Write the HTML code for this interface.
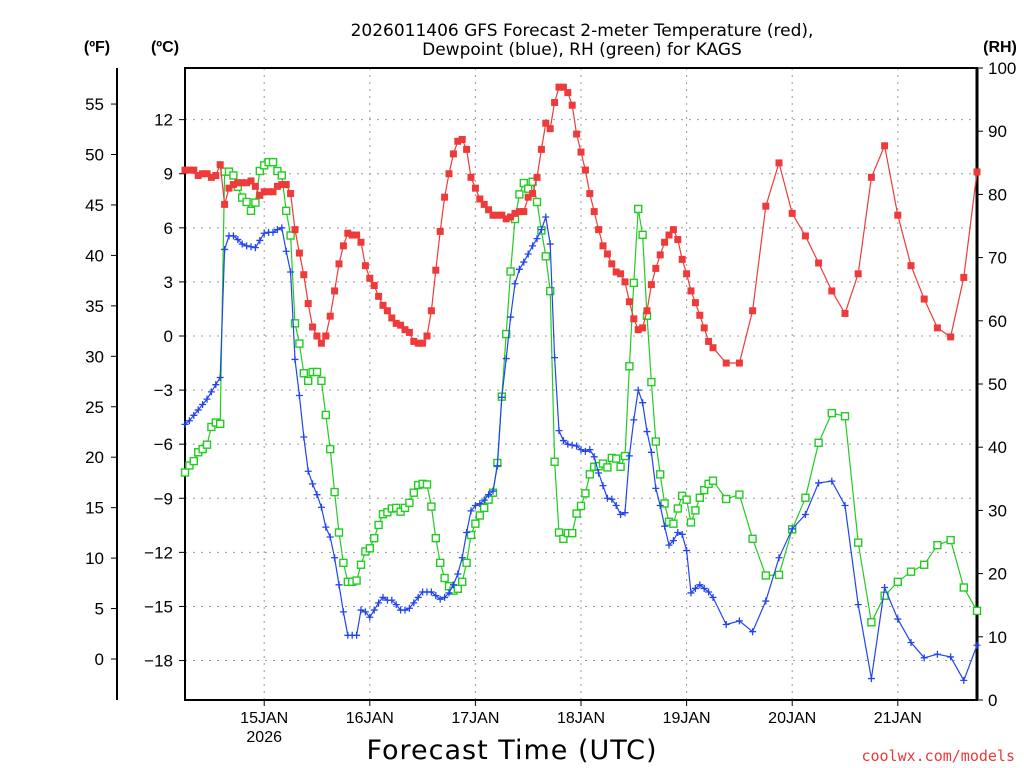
<!DOCTYPE html>
<html><head><meta charset="utf-8"><style>
html,body{margin:0;padding:0;background:#fff;}
svg{display:block;font-family:"Liberation Sans","DejaVu Sans",sans-serif;}
</style></head><body>
<svg id="chart" width="1024" height="768" viewBox="0 0 1024 768" xmlns="http://www.w3.org/2000/svg">
<rect width="1024" height="768" fill="#fff"/>
<g id="grid"></g>
<g id="axes"></g>
<g id="series"></g>
<text x="582" y="36" text-anchor="middle" font-size="17" font-family="DejaVu Sans, sans-serif">2026011406 GFS Forecast 2-meter Temperature (red),</text>
<text x="582" y="55" text-anchor="middle" font-size="17" font-family="DejaVu Sans, sans-serif">Dewpoint (blue), RH (green) for KAGS</text>
<text x="97" y="52" text-anchor="middle" font-size="16" font-weight="bold">(ºF)</text>
<text x="165" y="52" text-anchor="middle" font-size="16" font-weight="bold">(ºC)</text>
<text x="1000" y="52" text-anchor="middle" font-size="16" font-weight="bold">(RH)</text>
<text x="512" y="759" text-anchor="middle" font-size="27" font-family="DejaVu Sans, sans-serif" letter-spacing="1">Forecast Time (UTC)</text>
<text x="1015" y="761" text-anchor="end" font-size="15" fill="#e83a3a" font-family="DejaVu Sans Mono, monospace">coolwx.com/models</text>
</svg>
<script>
const tempC = [9.2,9.2,9.2,8.9,9.0,9.0,8.8,8.9,9.5,7.3,8.2,8.4,8.5,8.5,8.5,8.6,8.3,7.8,8.0,8.0,8.0,8.3,8.4,8.4,7.9,5.9,4.6,3.4,1.8,0.5,0.0,-0.4,0.0,1.1,2.5,4.0,5.0,5.7,5.6,5.6,5.2,3.9,3.2,2.8,2.2,1.7,
1.4,1.0,0.7,0.6,0.35,0.2,-0.3,-0.4,-0.4,0.0,1.4,3.65,5.8,7.7,9.0,10.1,10.8,10.9,10.35,8.8,8.2,7.6,7.3,7.0,6.7,6.7,6.7,6.5,6.6,6.8,6.9,6.9,7.7,7.9,8.8,10.35,11.8,11.5,12.95,13.8,13.8,13.5,
12.8,11.2,10.2,9.2,7.9,6.9,5.9,5.0,4.55,4.0,3.55,3.45,3.0,1.9,0.95,0.35,0.45,1.4,2.85,3.75,4.5,5.2,5.6,5.9,5.35,4.25,3.45,2.5,1.85,1.15,0.45,-0.3,-0.65,
-1.5,-1.5,1.4,7.2,9.6,6.8,5.55,4.05,2.5,1.25,3.45,8.8,10.55,6.7,3.9,2.05,0.45,-0.05,3.25,9.1];
const dewC = [-4.9,-4.7,-4.4,-4.1,-3.8,-3.5,-3.1,-2.7,-2.3,4.8,5.55,5.55,5.35,5.1,5.0,4.95,4.9,5.3,5.7,5.75,5.75,5.9,6.0,4.7,3.55,
-1.3,-3.3,-5.6,-7.5,-8.2,-8.8,-9.5,-10.6,-11.15,-12.3,-13.8,-15.3,-16.6,-16.6,-16.6,-15.2,-15.3,-15.6,-15.2,-14.8,-14.5,
-14.65,-14.65,-14.9,-15.2,-15.2,-15.1,-14.8,-14.5,-14.2,-14.2,-14.2,-14.4,-14.6,-14.5,-14.25,-13.8,-13.2,-12.3,-10.9,-9.7,-9.4,-9.3,-9.1,-8.8,-8.6,-7.2,-3.4,-1.25,1.05,2.9,3.7,4.1,4.55,5.0,5.4,5.9,6.6,5.1,-1.2,-5.25,-5.8,-6.0,
-6.05,-6.1,-6.3,-6.4,-6.3,-6.7,-7.6,-8.3,-9.0,-9.05,-9.4,-9.9,-9.8,-6.65,-4.65,-3.0,-3.7,-5.3,-6.45,-8.45,-9.4,-10.55,-11.6,-11.35,-10.9,-11.0,-11.9,-14.25,-14.0,-13.8,-14.0,-14.2,-14.5,
-16.0,-15.8,-16.4,-14.7,-12.3,-10.7,-9.9,-8.15,-8.05,-9.4,-14.9,-19.0,-13.95,-15.7,-17.0,-17.85,-17.65,-17.8,-19.1,-17.15];
const rhPct = [36.0,37.1,37.8,39.2,39.7,40.4,43.2,43.9,43.7,83.6,83.6,83.0,81.2,79.5,78.8,77.4,78.7,83.7,84.6,85.1,85.1,83.7,83.0,77.4,73.5,59.6,56.4,51.7,50.5,51.9,51.9,50.5,45.1,39.7,32.9,26.5,21.7,18.7,18.7,18.9,21.4,23.5,24.0,25.6,27.7,29.4,
29.7,30.3,30.4,29.8,30.4,31.2,32.8,34.0,34.2,34.1,30.6,25.6,21.7,19.3,18.0,17.3,17.6,18.7,21.7,26.1,27.9,29.2,30.4,31.7,32.8,37.5,48.0,57.9,67.8,76.1,80.0,81.8,80.9,82.0,78.8,74.3,70.2,64.7,37.7,26.5,
25.5,26.4,26.4,29.5,30.7,32.7,35.7,36.9,37.0,37.4,36.8,38.3,38.2,36.9,38.6,52.8,66.0,77.7,73.6,60.8,50.3,40.9,35.7,31.1,28.2,27.9,30.3,32.3,31.7,28.1,30.0,32.0,33.2,34.2,34.7,
31.8,32.5,25.5,19.7,19.8,27.0,32.0,40.7,45.4,44.9,24.9,12.3,16.5,18.7,20.3,21.4,24.5,25.3,17.8,14.1];
const forecastHours = [];
for (let h = 0; h <= 120; h++) forecastHours.push(h);
for (let h = 123; h <= 180; h += 3) forecastHours.push(h);
const celsiusTicks = [12,9,6,3,0,-3,-6,-9,-12,-15,-18];
const fahrenheitTicks = [55,50,45,40,35,30,25,20,15,10,5,0];
const rhTicks = [100,90,80,70,60,50,40,30,20,10,0];
const dayLabels = ["15JAN","16JAN","17JAN","18JAN","19JAN","20JAN","21JAN"];
const dayHours = [18,42,66,90,114,138,162];

const L=185,R=977,T=68,B=700;
const xS = h => L + h*(R-L)/180;
const yC = c => 336 - c*18.03;
const yF = f => 659 - f*10.09;
const yRH = r => B - r*(B-T)/100;
const NS="http://www.w3.org/2000/svg";
function mk(tag, attrs, parent, txt){const e=document.createElementNS(NS,tag);for(const k in attrs)e.setAttribute(k,attrs[k]);if(txt!==undefined)e.textContent=txt;parent.appendChild(e);return e;}
const grid=document.getElementById('grid'),axes=document.getElementById('axes'),ser=document.getElementById('series');

celsiusTicks.forEach(c=>{
  const l=mk('line',{x1:L,x2:R,y1:yC(c),y2:yC(c),stroke:'#999','stroke-width':1,'stroke-dasharray':'2,6'},grid);
  
  
  const t=mk('line',{x1:L-6,x2:L,y1:yC(c),y2:yC(c),stroke:'#000'},axes);
  
  
  const tx=mk('text',{x:L-12,y:yC(c)+6,'text-anchor':'end','font-size':17},axes,(c<0?'\u2212'+(-c):''+c));
  
  
});
fahrenheitTicks.forEach(f=>{
  const t=mk('line',{x1:111,x2:117,y1:yF(f),y2:yF(f),stroke:'#000'},axes);
  
  
  const tx=mk('text',{x:104,y:yF(f)+6,'text-anchor':'end','font-size':17},axes,''+f);
  
  
});
rhTicks.forEach(r=>{
  const t=mk('line',{x1:R,x2:R+6,y1:yRH(r),y2:yRH(r),stroke:'#000'},axes);
  
  
  const tx=mk('text',{x:988,y:yRH(r)+6,'text-anchor':'start','font-size':17},axes,''+r);
  
  
});
dayHours.forEach((h,i)=>{
  const l=mk('line',{x1:xS(h),x2:xS(h),y1:T,y2:B,stroke:'#999','stroke-width':1,'stroke-dasharray':'2,5'},grid);
  
  
  const t=mk('line',{x1:xS(h),x2:xS(h),y1:B,y2:B+6,stroke:'#000'},axes);
  
  
  const tx=mk('text',{x:xS(h),y:723,'text-anchor':'middle','font-size':16},axes,dayLabels[i]);
  
  
});
const yr=mk('text',{x:xS(dayHours[0]),y:742,'text-anchor':'middle','font-size':16},axes,'2026');


const fa=mk('line',{x1:117,x2:117,y1:T,y2:B,stroke:'#000','stroke-width':2},axes);


const fr=mk('path',{d:`M${L},${B} L${L},${T} L${R},${T} L${R},${B} Z`,fill:'none',stroke:'#000','stroke-width':2},axes);


const rl=mk('line',{x1:R,x2:R,y1:T,y2:B,stroke:'#000','stroke-width':3},axes);



function drawSeries(vals, yf, color, marker, name){
  const g=mk('g',{},ser);
  
  
  const pts=vals.map((v,i)=>xS(forecastHours[i]).toFixed(1)+','+yf(v).toFixed(1)).join(' ');
  const pl=mk('polyline',{points:pts,fill:'none',stroke:color,'stroke-width':1.2},g);
  
  
  vals.forEach((v,i)=>{
    const x=xS(forecastHours[i]),y=yf(v);let m;
    if(marker==='fill') m=mk('rect',{x:x-3.5,y:y-3.5,width:7,height:7,fill:color},g);
    else if(marker==='hollow') m=mk('rect',{x:x-3.5,y:y-3.5,width:7,height:7,fill:'#fff',stroke:color,'stroke-width':1.4},g);
    else m=mk('path',{d:`M${x-3.5},${y}H${x+3.5}M${x},${y-3.5}V${y+3.5}`,stroke:color,'stroke-width':1.3},g);
    
    
  });
}
drawSeries(rhPct,yRH,'#22cc22','hollow','rh');
drawSeries(dewC,yC,'#2244ee','plus','dewpoint');
drawSeries(tempC,yC,'#ee3a3a','fill','temperature');
</script>
</body></html>
